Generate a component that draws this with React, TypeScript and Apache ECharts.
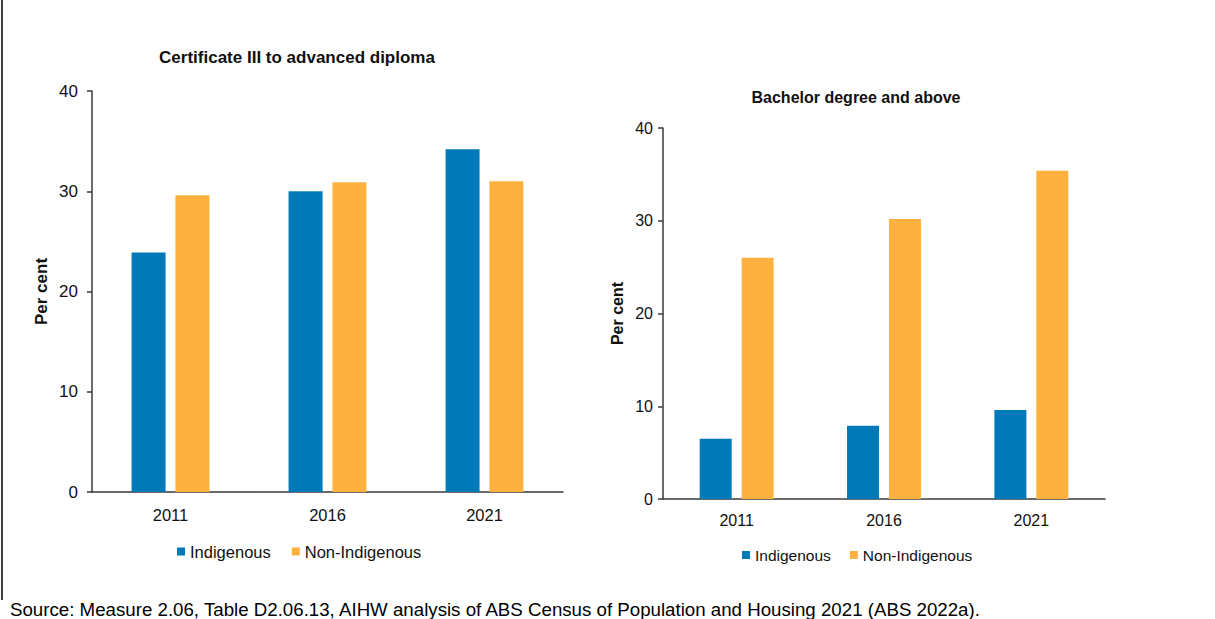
import React, { useEffect, useRef } from "react";
import * as echarts from "echarts";

const years = ["2011", "2016", "2021"];
const certIndigenous = [23.9, 30.0, 34.2];
const certNonIndigenous = [29.6, 30.9, 31.0];
const bachIndigenous = [6.5, 7.9, 9.6];
const bachNonIndigenous = [26.0, 30.2, 35.4];
const seriesNames = ["Indigenous", "Non-Indigenous"];
const panelTitles = ["Certificate III to advanced diploma", "Bachelor degree and above"];
const yAxisName = "Per cent";
const sourceText =
  "Source: Measure 2.06, Table D2.06.13, AIHW analysis of ABS Census of Population and Housing 2021 (ABS 2022a).";

const BLUE = "#0079b8";
const ORANGE = "#feb13f";
const AXIS = "#3a3a3a";
const FONT = "Arial, 'Liberation Sans', sans-serif";

export default function App() {
  const ref = useRef<HTMLDivElement>(null);
  useEffect(() => {
    if (!ref.current) return;
    const chart = echarts.init(ref.current, undefined, { renderer: "svg" });
    const yAxisCommon = (fs: number, margin: number, nameGap: number) => ({
      type: "value",
      min: 0,
      max: 40,
      interval: 10,
      splitLine: { show: false },
      axisLine: { show: true, lineStyle: { color: AXIS, width: 1.5 } },
      axisTick: { show: true, length: 5, lineStyle: { color: AXIS, width: 1.5 } },
      axisLabel: { color: "#111", fontSize: fs, fontFamily: FONT, margin },
      name: yAxisName,
      nameLocation: "middle",
      nameGap,
      nameTextStyle: { color: "#111", fontSize: fs, fontWeight: "bold", fontFamily: FONT },
    });
    const xAxisCommon = (fs: number, margin: number) => ({
      type: "category",
      data: years,
      axisLine: { show: true, lineStyle: { color: AXIS, width: 1.5 } },
      axisTick: { show: false },
      axisLabel: { color: "#111", fontSize: fs, fontFamily: FONT, margin },
    });
    chart.setOption({
      animation: false,
      backgroundColor: "#ffffff",
      grid: [
        { left: 92, top: 91, width: 471, height: 401 },
        { left: 663, top: 128, width: 442, height: 371 },
      ],
      xAxis: [
        { ...xAxisCommon(16.5, 14), gridIndex: 0 },
        { ...xAxisCommon(16, 13), gridIndex: 1 },
      ],
      yAxis: [
        { ...yAxisCommon(17, 14, 42), gridIndex: 0 },
        { ...yAxisCommon(16, 10, 38), gridIndex: 1 },
      ],
      legend: [
        {
          data: seriesNames,
          left: 172,
          top: 538,
          icon: "rect",
          itemWidth: 8,
          itemHeight: 8,
          itemGap: 21,
          textStyle: { color: "#111", fontSize: 16.5, fontFamily: FONT },
        },
        {
          data: seriesNames,
          left: 737,
          top: 542,
          icon: "rect",
          itemWidth: 8,
          itemHeight: 8,
          itemGap: 19,
          textStyle: { color: "#111", fontSize: 15.5, fontFamily: FONT },
        },
      ],
      series: [
        {
          name: seriesNames[0],
          type: "bar",
          xAxisIndex: 0,
          yAxisIndex: 0,
          data: certIndigenous,
          barWidth: 34,
          itemStyle: { color: BLUE },
        },
        {
          name: seriesNames[1],
          type: "bar",
          xAxisIndex: 0,
          yAxisIndex: 0,
          data: certNonIndigenous,
          barWidth: 34,
          barGap: "29%",
          itemStyle: { color: ORANGE },
        },
        {
          name: seriesNames[0],
          type: "bar",
          xAxisIndex: 1,
          yAxisIndex: 1,
          data: bachIndigenous,
          barWidth: 32,
          itemStyle: { color: BLUE },
        },
        {
          name: seriesNames[1],
          type: "bar",
          xAxisIndex: 1,
          yAxisIndex: 1,
          data: bachNonIndigenous,
          barWidth: 32,
          barGap: "31%",
          itemStyle: { color: ORANGE },
        },
      ],
      graphic: [
        {
          type: "line",
          shape: { x1: 2, y1: 0, x2: 2, y2: 600 },
          style: { stroke: "#000", lineWidth: 1.5 },
        },
        {
          type: "text",
          x: 297,
          y: 57,
          style: {
            text: panelTitles[0],
            fill: "#111",
            font: `bold 17px ${FONT}`,
            textAlign: "center",
            textVerticalAlign: "middle",
          },
        },
        {
          type: "text",
          x: 856,
          y: 97,
          style: {
            text: panelTitles[1],
            fill: "#111",
            font: `bold 16px ${FONT}`,
            textAlign: "center",
            textVerticalAlign: "middle",
          },
        },
        {
          type: "text",
          x: 10,
          y: 609,
          style: {
            text: sourceText,
            fill: "#000",
            font: `18.7px ${FONT}`,
            textAlign: "left",
            textVerticalAlign: "middle",
          },
        },
      ],
    });
    return () => chart.dispose();
  }, []);
  return (
    <div
      ref={ref}
      style={{ position: "fixed", left: 0, top: 0, width: 1215, height: 619, background: "#fff" }}
    />
  );
}
